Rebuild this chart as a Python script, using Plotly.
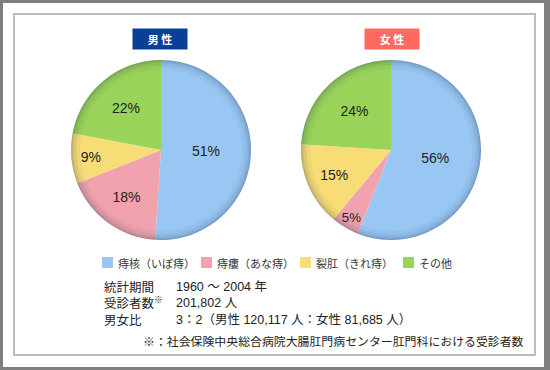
import plotly.graph_objects as go

# ---- data ----
categories = ["痔核（いぼ痔）", "痔瘻（あな痔）", "裂肛（きれ痔）", "その他"]
male_values = [51, 18, 9, 22]
female_values = [56, 5, 15, 24]
colors = ["#99c7f4", "#f1a2ae", "#f8dd77", "#9ad35a"]
panel_titles = ["男 性", "女 性"]
panel_title_colors = ["#0a3f98", "#ff6a60"]
info_labels = ["統計期間", "受診者数<sup>※</sup>", "男女比"]
info_values = ["1960 ～ 2004 年", "201,802 人", "3：2（男性 120,117 人：女性 81,685 人）"]
footnote = "※：社会保険中央総合病院大腸肛門病センター肛門科における受診者数"

W, H = 550, 370
def px(x): return x / W
def py(y): return 1 - y / H

JP = "Liberation Sans, Noto Sans CJK JP, sans-serif"
JPF = "Noto Sans CJK JP, sans-serif"

fig = go.Figure()

pies = [
    (male_values, (71, 251)),
    (female_values, (301, 481)),
]
pie_top, pie_bot = 60, 240
for k, (vals, (x0, x1)) in enumerate(pies):
    dom = dict(x=[px(x0), px(x1)], y=[py(pie_bot), py(pie_top)])
    fig.add_trace(go.Pie(
        labels=categories, values=vals, sort=False, direction="clockwise",
        rotation=0, domain=dom,
        marker=dict(colors=colors, line=dict(width=0)),
        text=[f"{v}%" for v in vals], textinfo="text",
        textposition="inside", insidetextorientation="horizontal",
        textfont=dict(family="Liberation Sans, Arial", size=14, color="#222222"),
        hoverinfo="label+percent", showlegend=False,
    ))
    # soft edge shading rings
    for hole, alpha in [(0.90, 0.05), (0.94, 0.07), (0.97, 0.09), (0.988, 0.12)]:
        fig.add_trace(go.Pie(
            values=[1], labels=["edge"], hole=hole, domain=dom, sort=False,
            marker=dict(colors=[f"rgba(30,50,80,{alpha})"], line=dict(width=0)),
            textinfo="none", hoverinfo="skip", showlegend=False,
        ))

shapes = [
    dict(type="rect", xref="paper", yref="paper", x0=px(3), x1=px(544),
         y0=py(367), y1=py(3), fillcolor="white", line=dict(width=0), layer="below"),
    dict(type="rect", xref="paper", yref="paper", x0=px(14), x1=px(535),
         y0=py(355), y1=py(14), fillcolor="rgba(0,0,0,0)",
         line=dict(color="#bcbcbc", width=2), layer="below"),
]

annotations = []
for i, (t, c) in enumerate(zip(panel_titles, panel_title_colors)):
    cx = [160, 392][i]
    annotations.append(dict(x=px(cx), y=py(39), xref="paper", yref="paper",
                            text=f"<b>{t}</b>", showarrow=False,
                            xanchor="center", yanchor="middle",
                            bgcolor=c, width=54, height=20, borderpad=0,
                            font=dict(family=JPF, size=11, color="white")))

legend_x = [102, 201, 300, 403]
for lx, cat, col in zip(legend_x, categories, colors):
    shapes.append(dict(type="rect", xref="paper", yref="paper",
                       x0=px(lx), x1=px(lx + 11), y0=py(268), y1=py(257),
                       fillcolor=col, line=dict(width=0), layer="below"))
    annotations.append(dict(x=px(lx + 14), y=py(262.5), xref="paper", yref="paper",
                            text=cat, showarrow=False, xanchor="left", yanchor="middle",
                            font=dict(family=JPF, size=11, color="#333333")))

# info block: one multi-line text per column
annotations.append(dict(x=px(102), y=py(303), xref="paper", yref="paper",
                        text="<br>".join(info_labels), showarrow=False,
                        xanchor="left", yanchor="middle", align="left",
                        font=dict(family=JPF, size=12.5, color="#222222")))
annotations.append(dict(x=px(174), y=py(303), xref="paper", yref="paper",
                        text="<br>".join(info_values), showarrow=False,
                        xanchor="left", yanchor="middle", align="left",
                        font=dict(family=JP, size=12.5, color="#222222")))

annotations.append(dict(x=px(526), y=py(340), xref="paper", yref="paper",
                        text=footnote, showarrow=False, xanchor="right", yanchor="middle",
                        font=dict(family=JPF, size=11.9, color="#222222")))

fig.update_layout(
    width=W, height=H, margin=dict(l=0, r=0, t=0, b=0),
    paper_bgcolor="#7f7f7f", plot_bgcolor="white",
    shapes=shapes, annotations=annotations, showlegend=False,
)

fig.write_html("out.html", config={"displayModeBar": False},
               post_script="document.body.style.margin='0';document.body.style.overflow='hidden';")
